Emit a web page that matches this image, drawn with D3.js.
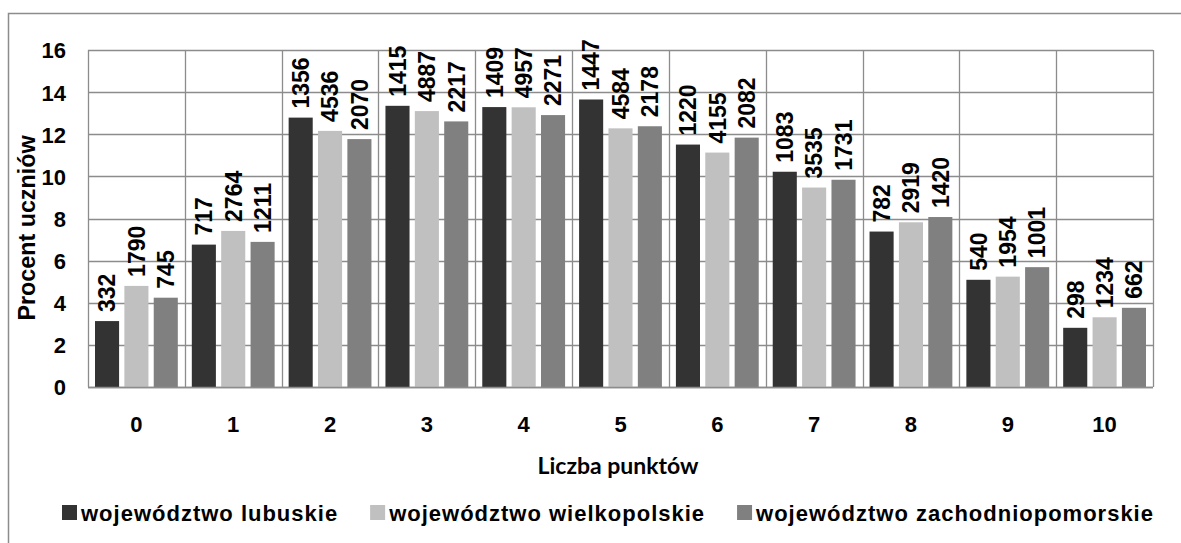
<!DOCTYPE html>
<html>
<head>
<meta charset="utf-8">
<script src="https://cdn.jsdelivr.net/npm/d3@7"></script>
<style>
  html, body { margin: 0; padding: 0; background: #fff; }
  svg { display: block; }
  text { font-family: "Liberation Sans", Arial, sans-serif; font-weight: bold; fill: #000; }
</style>
</head>
<body>
<svg id="chart" width="1181" height="543"></svg>
<script>
const categories = ["0", "1", "2", "3", "4", "5", "6", "7", "8", "9", "10"];
const seriesNames = ["województwo lubuskie", "województwo wielkopolskie", "województwo zachodniopomorskie"];
const lubuskiePct = [3.13, 6.76, 12.79, 13.35, 13.29, 13.65, 11.51, 10.22, 7.38, 5.09, 2.81];
const wielkopolskiePct = [4.80, 7.41, 12.16, 13.10, 13.28, 12.28, 11.13, 9.47, 7.82, 5.24, 3.31];
const zachodniopomorskiePct = [4.24, 6.89, 11.77, 12.61, 12.91, 12.38, 11.84, 9.84, 8.07, 5.69, 3.76];
const lubuskieCount = [332, 717, 1356, 1415, 1409, 1447, 1220, 1083, 782, 540, 298];
const wielkopolskieCount = [1790, 2764, 4536, 4887, 4957, 4584, 4155, 3535, 2919, 1954, 1234];
const zachodniopomorskieCount = [745, 1211, 2070, 2217, 2271, 2178, 2082, 1731, 1420, 1001, 662];
const yTicks = [0, 2, 4, 6, 8, 10, 12, 14, 16];
const colors = ["#333333", "#c0c0c0", "#808080"];
const yTitle = "Procent uczniów";
const xTitle = "Liczba punktów";

const pctSeries = [lubuskiePct, wielkopolskiePct, zachodniopomorskiePct];
const countSeries = [lubuskieCount, wielkopolskieCount, zachodniopomorskieCount];

const svg = d3.select("#chart");
const plot = { left: 88, right: 1153, top: 50, bottom: 387 };

// outer chart border
svg.append("rect")
  .attr("x", 8.5).attr("y", 13.5)
  .attr("width", 1300).attr("height", 700)
  .attr("fill", "none").attr("stroke", "#8c8c8c").attr("stroke-width", 1.5);

const x = d3.scaleBand().domain(categories).range([plot.left, plot.right]).paddingInner(0).paddingOuter(0);
const inner = d3.scaleBand().domain(d3.range(seriesNames.length))
  .range([7, x.bandwidth() - 7]).paddingInner(0.18).paddingOuter(0);
const y = d3.scaleLinear().domain([0, 16]).range([plot.bottom, plot.top]);

const grid = svg.append("g").attr("stroke", "#8c8c8c").attr("stroke-width", 1.3);
grid.selectAll("line.h").data(yTicks).join("line")
  .attr("x1", plot.left).attr("x2", plot.right)
  .attr("y1", d => Math.round(y(d)) + 0.5).attr("y2", d => Math.round(y(d)) + 0.5);
const bounds = categories.map(c => x(c)).concat([plot.right]);
grid.selectAll("line.v").data(bounds).join("line")
  .attr("y1", plot.top).attr("y2", plot.bottom)
  .attr("x1", d => Math.round(d) + 0.5).attr("x2", d => Math.round(d) + 0.5);

// bars
const barData = [];
categories.forEach((c, i) => {
  pctSeries.forEach((s, k) => {
    barData.push({ cat: c, k: k, v: s[i], n: countSeries[k][i] });
  });
});
svg.append("g").selectAll("rect").data(barData).join("rect")
  .attr("x", d => x(d.cat) + inner(d.k))
  .attr("width", inner.bandwidth())
  .attr("y", d => y(d.v))
  .attr("height", d => y(0) - y(d.v))
  .attr("fill", d => colors[d.k]);

// axis line
svg.append("line").attr("x1", plot.left).attr("x2", plot.right)
  .attr("y1", plot.bottom + 0.5).attr("y2", plot.bottom + 0.5)
  .attr("stroke", "#8c8c8c").attr("stroke-width", 1.5);

// data labels (rotated)
svg.append("g").selectAll("text").data(barData).join("text")
  .attr("transform", d => `translate(${x(d.cat) + inner(d.k) + inner.bandwidth() / 2},${y(d.v) - 9}) rotate(-90)`)
  .attr("dy", "0.36em")
  .attr("text-anchor", "start")
  .style("font-size", "23px")
  .text(d => d.n);

// y axis tick labels
const yAxis = d3.axisLeft(y).tickValues(yTicks).tickSize(0).tickPadding(0);
const yg = svg.append("g").attr("transform", `translate(66,0)`).call(yAxis);
yg.select(".domain").remove();
yg.selectAll("text").style("font-size", "22px").style("font-family", "'Liberation Sans', Arial, sans-serif")
  .style("font-weight", "bold").attr("fill", "#000").attr("dy", "0.36em");

// x axis tick labels
const xAxis = d3.axisBottom(x).tickSize(0).tickPadding(0);
const xg = svg.append("g").attr("transform", `translate(0,${plot.bottom})`).call(xAxis);
xg.select(".domain").remove();
xg.selectAll("text").style("font-size", "22px").style("font-family", "'Liberation Sans', Arial, sans-serif")
  .style("font-weight", "bold").attr("fill", "#000").attr("y", 45).attr("dy", 0);

// y axis title
svg.append("text")
  .attr("transform", "translate(35,228) rotate(-90)")
  .attr("text-anchor", "middle")
  .style("font-size", "23.3px")
  .text(yTitle);

// x axis title
svg.append("text")
  .attr("x", 618).attr("y", 474)
  .attr("text-anchor", "middle")
  .style("font-family", "Lato, 'Open Sans', sans-serif")
  .style("font-size", "23px")
  .text(xTitle);

// legend
const legend = svg.append("g");
let lx = 62;
seriesNames.forEach((name, k) => {
  legend.append("rect").attr("x", lx).attr("y", 505).attr("width", 15).attr("height", 15).attr("fill", colors[k]);
  const t = legend.append("text").attr("x", lx + 19).attr("y", 521)
    .style("font-size", "22px").style("letter-spacing", "1px").text(name);
  lx = lx + 19 + t.node().getComputedTextLength() + 32;
});
</script>
</body>
</html>
